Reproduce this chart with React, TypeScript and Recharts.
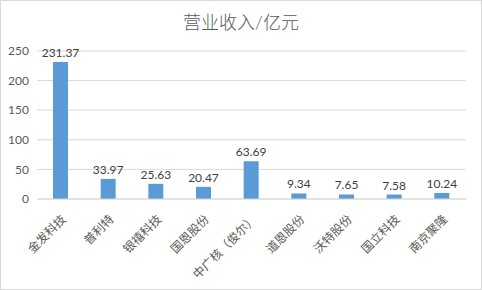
import React from "react";
import { BarChart, Bar, XAxis, YAxis, CartesianGrid, LabelList } from "recharts";

const companies = ["金发科技", "普利特", "银禧科技", "国恩股份", "中广核（俊尔）", "道恩股份", "沃特股份", "国立科技", "南京聚隆"];
const revenue = [231.37, 33.97, 25.63, 20.47, 63.69, 9.34, 7.65, 7.58, 10.24];
const yTicks = [0, 50, 100, 150, 200, 250];
const title = "营业收入/亿元";

const data = companies.map((name, i) => ({ name, value: revenue[i] }));

const FONT = "Lato, 'Noto Sans CJK SC', sans-serif";
const TEXT = "#595959";

const XTick = (props: any) => {
  const { x, y, payload } = props;
  return (
    <g transform={`translate(${x + 3},${y + 10})`}>
      <text
        transform="rotate(-45)"
        textAnchor="end"
        dy="0.35em"
        fontSize={12}
        fill={TEXT}
        fontFamily={FONT}
      >
        {payload.value}
      </text>
    </g>
  );
};

export default function App() {
  return (
    <div
      style={{
        position: "absolute",
        left: 0,
        top: 0,
        width: 482,
        height: 290,
        boxSizing: "border-box",
        border: "1px solid #d9d9d9",
        background: "#fff",
        fontFamily: FONT,
      }}
    >
      <div
        style={{
          position: "absolute",
          left: 0,
          top: 8,
          width: 480,
          textAlign: "center",
          fontSize: 18,
          fontWeight: 300,
          color: TEXT,
          lineHeight: "26px",
        }}
      >
        {title}
      </div>
      <div style={{ position: "absolute", left: -1, top: -1 }}>
        <BarChart
          width={482}
          height={290}
          data={data}
          margin={{ top: 51, right: 16, bottom: 0, left: 0 }}
        >
          <CartesianGrid vertical={false} stroke="#d9d9d9" />
          <XAxis
            dataKey="name"
            interval={0}
            height={91}
            tickLine={false}
            axisLine={{ stroke: "#d9d9d9" }}
            tick={<XTick />}
          />
          <YAxis
            width={37}
            domain={[0, 250]}
            ticks={yTicks}
            tickLine={false}
            axisLine={false}
            tick={{ fill: TEXT, fontSize: 12, fontFamily: FONT }}
          />
          <Bar dataKey="value" fill="#5b9bd5" barSize={15} isAnimationActive={false}>
            <LabelList
              dataKey="value"
              position="top"
              offset={5}
              fill="#404040"
              fontSize={12}
              fontFamily={FONT}
            />
          </Bar>
        </BarChart>
      </div>
    </div>
  );
}
